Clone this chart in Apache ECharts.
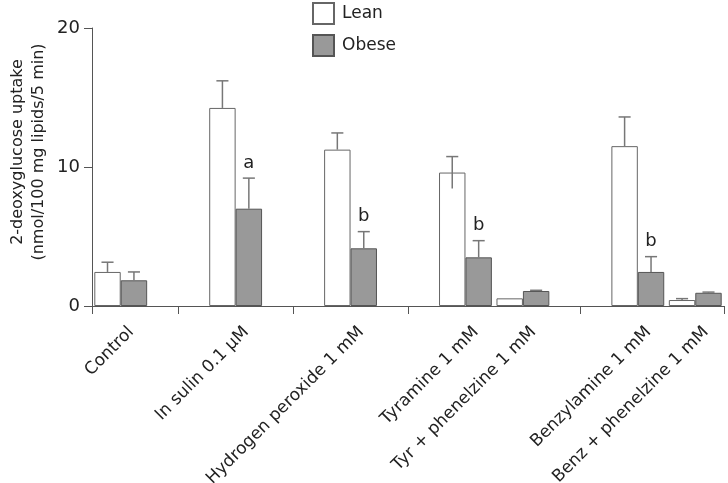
<!DOCTYPE html>
<html>
<head>
<meta charset="utf-8">
<script src="https://cdn.jsdelivr.net/npm/echarts@6/dist/echarts.min.js"></script>
<style>html,body{margin:0;padding:0;background:#fff;}#c{width:728px;height:483px;}</style>
</head>
<body>
<div id="c"></div>
<script>
// ---- data ----
const categories = ['Control', 'In sulin 0.1 μM', 'Hydrogen peroxide 1 mM', 'Tyramine 1 mM', 'Tyr + phenelzine 1 mM', 'Benzylamine 1 mM', 'Benz + phenelzine 1 mM'];
const leanValues = [2.45, 14.25, 11.25, 9.6, 0.55, 11.5, 0.43];
const leanErrUp = [0.7, 1.95, 1.2, 1.15, 0, 2.1, 0.1];
const leanErrDown = [0, 0, 0, 1.15, 0, 0, 0];
const obeseValues = [1.85, 7.0, 4.15, 3.5, 1.08, 2.45, 0.95];
const obeseErrUp = [0.6, 2.2, 1.2, 1.2, 0.05, 1.1, 0.05];
const obeseErrDown = [0, 0, 0, 0, 0, 0, 0];
const obeseMarks = ['', 'a', 'b', 'b', '', 'b', ''];
const yTicks = [0, 10, 20];
const yTitle = '2-deoxyglucose uptake\n(nmol/100 mg lipids/5 min)';

// ---- layout (slot positions on the axis) ----
const slotOf = [0, 2, 4, 6, 7, 9, 10];
const nSlots = 11;
const FONT = 'DejaVu Sans';

const slotNames = [];
for (let i = 0; i < nSlots; i++) slotNames.push('');
categories.forEach((c, i) => { slotNames[slotOf[i]] = c; });
const slotLean = new Array(nSlots).fill('-');
const slotObese = new Array(nSlots).fill('-');
categories.forEach((c, i) => { slotLean[slotOf[i]] = leanValues[i]; slotObese[slotOf[i]] = obeseValues[i]; });

// tick positions: start, and middle of each empty slot (in half-slot units)
const halfNames = [];
for (let i = 0; i < nSlots * 2; i++) halfNames.push('h' + i);
const tickHalf = [0];
for (let s = 0; s < nSlots; s++) if (slotOf.indexOf(s) < 0) tickHalf.push(2 * s + 1);

const errData = [];
categories.forEach((c, i) => {
  errData.push([slotOf[i], leanValues[i], leanErrUp[i], leanErrDown[i], -1, '']);
  errData.push([slotOf[i], obeseValues[i], obeseErrUp[i], obeseErrDown[i], 1, obeseMarks[i]]);
});

const BCG = 0.08;
const chart = echarts.init(document.getElementById('c'), null, {renderer: 'canvas'});
chart.setOption({
  animation: false,
  backgroundColor: '#fff',
  grid: {left: 92, right: 4, top: 28, bottom: 177, containLabel: false, outerBoundsMode: 'none'},
  graphic: [{
    type: 'text', x: 28, y: 152, rotation: Math.PI / 2,
    style: {text: yTitle, fontFamily: FONT, fontSize: 16, fill: '#222', lineHeight: 21, align: 'center', verticalAlign: 'middle'}
  }],
  legend: {
    orient: 'vertical', left: 307, top: -3, itemWidth: 21, itemHeight: 21, itemGap: 9,
    icon: 'rect',
    textStyle: {fontFamily: FONT, fontSize: 17, color: '#222', padding: [0, 0, 0, 3]},
    data: ['Lean', 'Obese']
  },
  xAxis: [{
    type: 'category', data: slotNames, boundaryGap: true,
    axisLine: {lineStyle: {color: '#555', width: 1}},
    axisTick: {show: false},
    axisLabel: {interval: 0, rotate: 45, fontFamily: FONT, fontSize: 17, color: '#222', margin: 13,
      verticalAlign: 'top', lineHeight: 30}
  }, {
    type: 'category', data: halfNames, boundaryGap: true, position: 'bottom',
    axisLine: {show: false},
    axisTick: {show: true, length: 8, lineStyle: {color: '#555'}, interval: function (idx) { return tickHalf.indexOf(idx) >= 0; }},
    axisLabel: {show: false}
  }],
  yAxis: {
    type: 'value', min: 0, max: 20, interval: 10,
    axisLine: {show: true, lineStyle: {color: '#555'}},
    axisTick: {show: true, length: 8, lineStyle: {color: '#555'}},
    splitLine: {show: false},
    axisLabel: {fontFamily: FONT, fontSize: 18, color: '#222', margin: 12,
      formatter: v => yTicks.indexOf(v) >= 0 ? String(v) : ''}
  },
  series: [{
    name: 'Lean', type: 'bar', data: slotLean, barGap: '0%', barCategoryGap: (BCG * 100) + '%',
    itemStyle: {color: '#ffffff', borderColor: '#666', borderWidth: 1}
  }, {
    name: 'Obese', type: 'bar', data: slotObese, barGap: '0%', barCategoryGap: (BCG * 100) + '%',
    itemStyle: {color: '#999999', borderColor: '#555', borderWidth: 1}
  }, {
    name: 'err', type: 'custom', data: errData, z: 5,
    renderItem: function (params, api) {
      const slot = api.value(0), v = api.value(1), up = api.value(2), dn = api.value(3), side = api.value(4);
      const mark = errData[params.dataIndex][5];
      const slotW = api.size([1, 0])[0];
      const bw = slotW * (1 - BCG) / 2;
      const c = api.coord([slot, v]);
      const x = c[0] + side * bw / 2;
      const yTop = api.coord([slot, v + up])[1];
      const yBot = api.coord([slot, v - dn])[1];
      const cap = slotW * 0.105;
      const children = [];
      if (up > 0 || dn > 0) {
        children.push({type: 'line', shape: {x1: x, y1: yTop, x2: x, y2: yBot}, style: {stroke: '#777', lineWidth: 1.5}});
        if (up > 0) children.push({type: 'line', shape: {x1: x - cap, y1: yTop, x2: x + cap, y2: yTop}, style: {stroke: '#777', lineWidth: 1.5}});
      }
      if (mark) {
        children.push({type: 'text', style: {text: mark, x: x, y: yTop - 6, align: 'center', verticalAlign: 'bottom', fontFamily: FONT, fontSize: 18, fill: '#222'}});
      }
      return {type: 'group', children: children};
    }
  }]
});
</script>
</body>
</html>
